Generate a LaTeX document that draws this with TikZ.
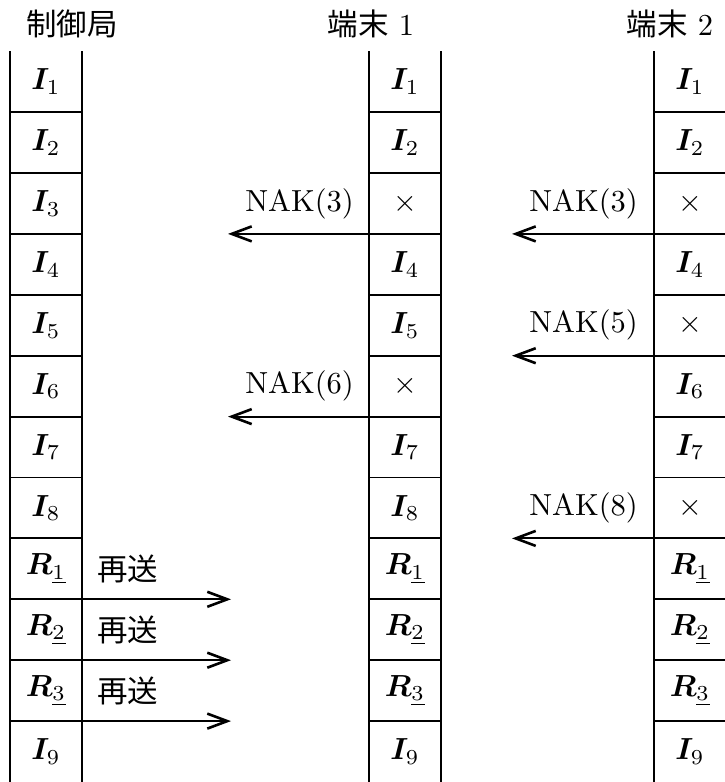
\documentclass[tikz,border=0pt]{standalone}
\usepackage{amsmath,bm}
\usepackage{fontspec}
\newfontfamily\cjk{Noto Sans CJK JP}
\usetikzlibrary{arrows.meta}
\newcommand\bigtxt[1]{\scalebox{3.05}{#1}}
\newcommand\cI[1]{$\bm{I}_{#1}$}
\newcommand\cR[1]{$\bm{R}_{\underline{#1}}$}
\newcommand\cX{$\times$}
\begin{document}
\begin{tikzpicture}[x=1pt,y=-1pt,
  font=\fontsize{10}{12}\selectfont,
  vline/.style={line width=1.5pt},
  hline/.style={line width=1.9pt},
  msg/.style={line width=1.9pt,-{Straight Barb[length=20pt,width=15pt,line width=2.6pt]}},
  cell/.style={inner sep=0pt},
  lab/.style={inner sep=0pt}]
\useasboundingbox (0,0) rectangle (725,782);
\def\rt{51.2}\def\rh{60.9}
% headers
\node[lab] (h1) at (72,24) {\bigtxt{\cjk 制御局}};
\node[lab] (h2) at (371,24) {\bigtxt{{\cjk 端末} 1}};
\node[lab] (h3) at (670,24) {\bigtxt{{\cjk 端末} 2}};
% column lines
\foreach \lx/\rx [count=\c] in {10/82,369/441,654/726}{
  \draw[vline] (\lx,\rt) -- (\lx,782);
  \draw[vline] (\rx,\rt) -- (\rx,782);
  \foreach \k in {1,...,11}{
    \draw[hline] (\lx,\rt+\rh*\k) -- (\rx,\rt+\rh*\k);
  }
}
% cell texts
\foreach \t [count=\k] in {\cI1,\cI2,\cI3,\cI4,\cI5,\cI6,\cI7,\cI8,\cR1,\cR2,\cR3,\cI9}{
  \node[cell] (a\k) at (46,\rt+\rh*\k-\rh/2) {\bigtxt{\t}};
}
\foreach \t [count=\k] in {\cI1,\cI2,\cX,\cI4,\cI5,\cX,\cI7,\cI8,\cR1,\cR2,\cR3,\cI9}{
  \node[cell] (b\k) at (405,\rt+\rh*\k-\rh/2) {\bigtxt{\t}};
}
\foreach \t [count=\k] in {\cI1,\cI2,\cX,\cI4,\cX,\cI6,\cI7,\cX,\cR1,\cR2,\cR3,\cI9}{
  \node[cell] (c\k) at (690,\rt+\rh*\k-\rh/2) {\bigtxt{\t}};
}
% NAK from terminal 1
\foreach \k in {3,6}{
  \coordinate (bs\k) at (369,\rt+\rh*\k);
  \coordinate (be\k) at (228,\rt+\rh*\k);
  \draw[msg] (bs\k) -- (be\k);
  \node[lab,anchor=east] (bn\k) at (354,\rt+\rh*\k-\rh/2) {\bigtxt{NAK(\k)}};
}
% NAK from terminal 2
\foreach \k in {3,5,8}{
  \coordinate (cs\k) at (654,\rt+\rh*\k);
  \coordinate (ce\k) at (512,\rt+\rh*\k);
  \draw[msg] (cs\k) -- (ce\k);
  \node[lab,anchor=east] (cn\k) at (638,\rt+\rh*\k-\rh/2) {\bigtxt{NAK(\k)}};
}
% retransmissions
\foreach \k in {9,10,11}{
  \coordinate (as\k) at (82,\rt+\rh*\k);
  \coordinate (ae\k) at (231,\rt+\rh*\k);
  \draw[msg] (as\k) -- (ae\k);
  \node[lab,anchor=west] (an\k) at (97,\rt+\rh*\k-\rh/2) {\bigtxt{\cjk 再送}};
}
\end{tikzpicture}
\end{document}
